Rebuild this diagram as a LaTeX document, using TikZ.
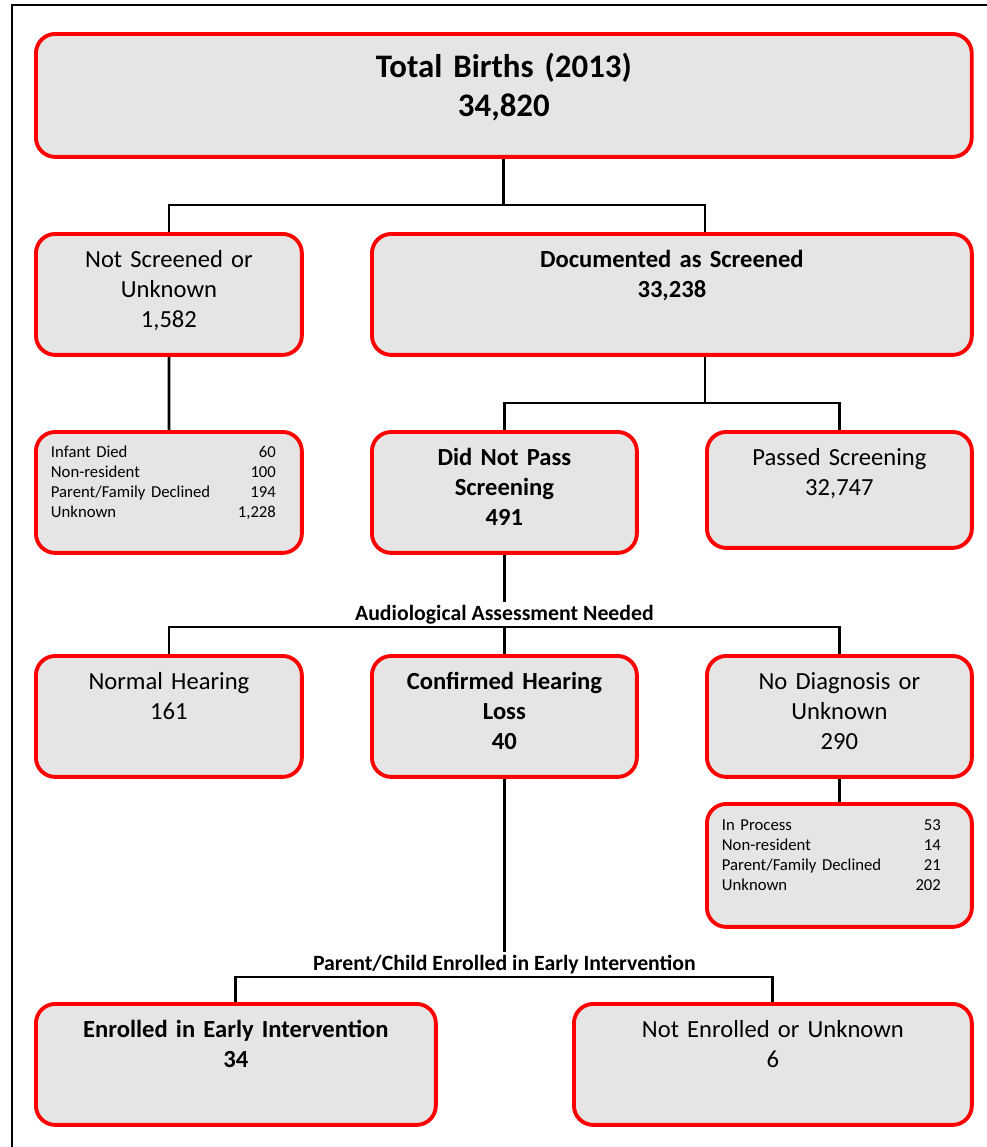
\documentclass[tikz,border=0pt]{standalone}
\usepackage{fontspec}
\setmainfont{Carlito}

\newcommand{\cntrow}[3][4.5cm]{\makebox[#1]{#2\hfill#3}}

\begin{document}
\begin{tikzpicture}[x=0.02cm,y=-0.02cm,
  box/.style={draw=red,line width=2.2pt,fill=gray!20,rounded corners=11pt,
    anchor=north west,inner sep=0pt,align=center,text height=0.68cm,text depth=1.74cm,
    font=\fontsize{14}{17}\selectfont},
  hl/.style={font=\fontsize{14}{17}\selectfont\bfseries},
  list/.style={box,align=left,inner xsep=0.3cm,text width=4.72cm,text height=0.52cm,
    text depth=1.9cm,font=\fontsize{9.5}{11.3}\selectfont},
  link/.style={line width=1.6pt},
  step label/.style={anchor=south,inner sep=1.5pt,font=\fontsize{12.4}{14}\selectfont\bfseries}]
  \useasboundingbox (0,0) rectangle (987,1147);
  \draw[line width=0.8pt] (12,1147) -- (12,5) -- (987,5);

  % boxes
  \node[box,text width=18.72cm,text height=0.87cm,text depth=1.59cm,
    font=\fontsize{18.7}{22}\selectfont\bfseries] (total) at (34,32) {Total Births (2013)\\34,820};
  \node[box,text width=5.32cm] (notscr) at (34,232) {Not Screened or\\Unknown\\1,582};
  \node[box,hl,text width=12cm] (docs) at (370,232) {Documented as Screened\\33,238};
  \node[list] (died) at (34,430) {\cntrow{Infant Died}{60}\\\cntrow{Non-resident}{100}\\
    \cntrow{Parent/Family Declined}{194}\\\cntrow{Unknown}{1,228}};
  \node[box,hl,text width=5.3cm] (dnp) at (370,430) {Did Not Pass\\Screening\\491};
  \node[box,text width=5.3cm,text depth=1.64cm] (pass) at (705,430) {Passed Screening\\32,747};
  \node[box,text width=5.32cm] (normal) at (34,654) {Normal Hearing\\161};
  \node[box,hl,text width=5.3cm] (conf) at (370,654) {Confirmed Hearing\\Loss\\40};
  \node[box,text width=5.3cm] (nodiag) at (705,654) {No Diagnosis or\\Unknown\\290};
  \node[list,text width=4.7cm,text height=0.54cm,text depth=1.92cm] (inproc) at (705,802)
    {\cntrow[4.38cm]{In Process}{53}\\\cntrow[4.38cm]{Non-resident}{14}\\
    \cntrow[4.38cm]{Parent/Family Declined}{21}\\\cntrow[4.38cm]{Unknown}{202}};
  \node[box,hl,text width=8cm] (enr) at (34,1002) {Enrolled in Early Intervention\\34};
  \node[box,text width=7.96cm] (notenr) at (572,1002) {Not Enrolled or Unknown\\6};

  % connectors
  \coordinate (j1) at (total.south |- 0,205);
  \coordinate (j2) at (pass.west |- 0,403);
  \coordinate (j3) at (dnp.south |- 0,627);
  \coordinate (j4) at (conf.south |- 0,977);
  \node[step label] (aud) at (j3) {Audiological Assessment Needed};
  \node[step label] (pe) at (j4) {Parent/Child Enrolled in Early Intervention};

  \draw[link] (total.south) -- (j1);
  \draw[link] (notscr.north) |- (j1) -| (docs.north -| j2);
  \draw[link] (notscr.south) -- (died.north);
  \draw[link] (docs.south -| j2) -- (j2);
  \draw[link] (dnp.north) |- (j2) -| (pass.north);
  \draw[link] (dnp.south) -- (aud.north);
  \draw[link] (normal.north) |- (j3) -| (nodiag.north);
  \draw[link] (j3) -- (conf.north);
  \draw[link] (nodiag.south) -- (inproc.north);
  \draw[link] (conf.south) -- (pe.north);
  \draw[link] (enr.north) |- (j4) -| (notenr.north);
\end{tikzpicture}
\end{document}
